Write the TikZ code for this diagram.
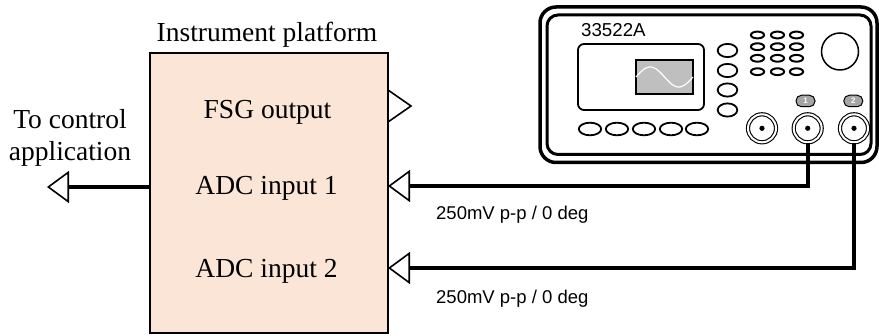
\documentclass[tikz,border=0pt]{standalone}
\usepackage{fontspec}
\setmainfont{Liberation Serif}
\newfontfamily\labelsans{Liberation Sans}
\usetikzlibrary{arrows.meta}
\definecolor{platfill}{HTML}{FBE5D6}
\definecolor{screengray}{HTML}{BFBFBF}
\definecolor{pillgray}{HTML}{A6A6A6}
\tikzset{
  serif/.style={font=\fontsize{27.5}{32}\selectfont, inner sep=0pt},
  sanslabel/.style={font=\labelsans\fontsize{18.5}{22}\selectfont, inner sep=0pt},
  platbox/.style={draw, fill=platfill, line width=1.5pt, minimum width=238pt,
    minimum height=280pt, inner sep=0pt, outer sep=0pt},
  cable/.style={line width=4pt, line join=miter},
  opentip/.style={-{Triangle[open, length=22pt, width=32pt, line width=1.6pt]}},
  porttri/.style={line width=1.6pt, line join=miter},
  panel/.style={line width=1.8pt},
  bnc/.style={circle, draw, fill=white, line width=1.1pt, double=white,
    double distance=2pt, minimum size=28pt, inner sep=0pt},
  pill/.style={draw, fill=pillgray, line width=1pt, rounded corners=5.5pt,
    minimum width=19pt, minimum height=11.5pt, inner sep=0pt, text=white,
    font=\labelsans\bfseries\fontsize{8}{8}\selectfont},
}
\begin{document}
\begin{tikzpicture}[x=1pt, y=-1pt]
\useasboundingbox (0,0) rectangle (879,336);

% ---- instrument platform block ----
\node[platbox] (plat) at (269,193) {};
\node[serif, anchor=base] (title) at (267,41.5) {Instrument platform};
\node[serif, anchor=base] (fsg)  at (267.5,119) {FSG output};
\node[serif, anchor=base] (adc1) at (266.5,195) {ADC input 1};
\node[serif, anchor=base] (adc2) at (266.5,278) {ADC input 2};
\node[serif, align=center] (ctrltext) at (70,137.6) {To control\\application};

% FSG output port marker
\draw[porttri] (plat.east |- 0,90) -- (411,106) -- (plat.east |- 0,122) -- cycle;

% link to the control application
\coordinate (ctrl) at (47,187);
\draw[cable, line width=4.5pt, opentip] (plat.west |- ctrl) -- (ctrl);

% ---- 33522A function generator ----
\draw[line width=3.5pt, fill=white, rounded corners=16pt] (540,7) rectangle (877,162.5);
\draw[line width=3pt, rounded corners=11pt] (547,15) rectangle (871,154.5);
\node[sanslabel, anchor=base west, font=\labelsans\fontsize{18.7}{20}\selectfont] (model) at (581,36.5) {33522A};

% display with sine trace
\draw[panel, rounded corners=6pt] (578,44) rectangle (704,110);
\draw[panel, fill=screengray] (636,60) rectangle (693,94);
\draw[white, line width=1.2pt] plot[domain=0:1, samples=60] ({636+57*\x}, {77-10*sin(360*\x)});

% soft keys below the display
\foreach \cx in {590,617,644,671,697}
  \draw[panel] (\cx,129) ellipse (11.2pt and 6.3pt);
% menu keys beside the display
\foreach \cy in {50.5,70.5,90,110}
  \draw[panel] (727.5,\cy) ellipse (9.8pt and 6.6pt);
% numeric keypad
\foreach \cx in {757.5,777.5,796.5}
  \foreach \cy in {35,46.7,58.3,71.7}
    \draw[line width=2pt] (\cx,\cy) ellipse (6.6pt and 3.4pt);
% rotary knob
\draw[line width=1.5pt] (840,51.5) circle (18.5pt);

% channel tags
\node[pill] (tag1) at (805.5,101) {1};
\node[pill] (tag2) at (853.3,101) {2};

% BNC connectors
\node[bnc] (sync) at (762,128.3) {};
\node[bnc] (ch1)  at (807.7,128.3) {};
\node[bnc] (ch2)  at (854,128.3) {};
\foreach \c in {sync,ch1,ch2}
  \fill (\c) circle (2.6pt);

% ---- cables to the ADC inputs ----
\coordinate (in1) at (388,186);
\coordinate (in2) at (388,268);
\draw[cable, opentip] (ch1.south) |- (in1);
\draw[cable, opentip] (ch2.south) |- (in2);
\node[sanslabel, anchor=base west] (lab1) at (436,220) {250mV p-p / 0 deg};
\node[sanslabel, anchor=base west] (lab2) at (436,304) {250mV p-p / 0 deg};
\end{tikzpicture}
\end{document}
